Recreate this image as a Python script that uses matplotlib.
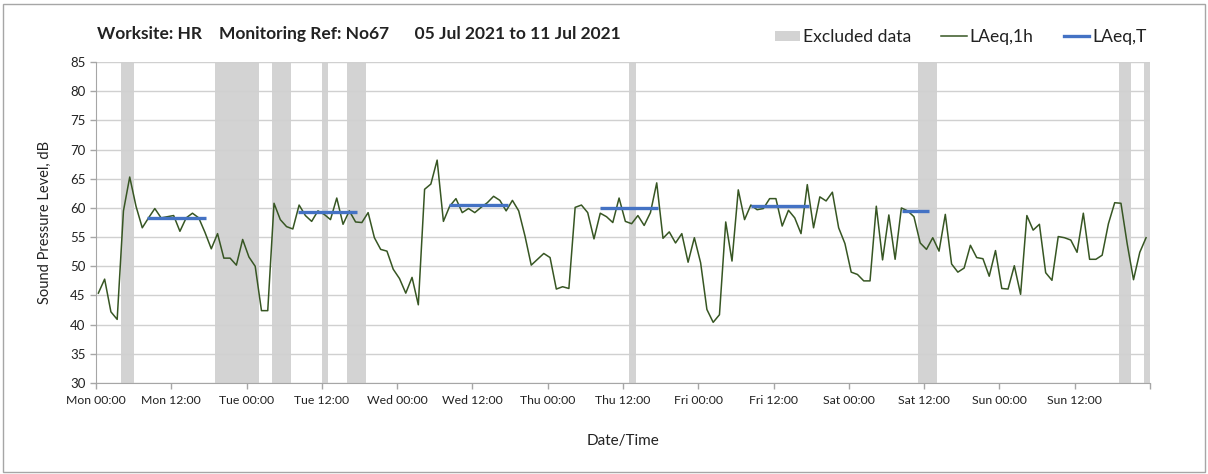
import numpy as np
import matplotlib
matplotlib.use("Agg")
import matplotlib.pyplot as plt
from matplotlib.patches import Patch, Rectangle
from matplotlib.lines import Line2D

plt.rcParams["font.family"] = ["Lato", "DejaVu Sans"]

# hourly LAeq values, Mon 00:00 onwards
laeq_1h = [
    45.4, 47.8, 42.2, 40.9, 59.5, 65.3, 60.3, 56.6, 58.3, 59.9, 58.3, 58.5,
    58.7, 56.0, 58.3, 59.1, 58.3, 55.8, 53.0, 55.6, 51.4, 51.4, 50.2, 54.6,
    51.6, 50.0, 42.4, 42.4, 60.8, 58.0, 56.8, 56.4, 60.5, 58.7, 57.7, 59.5,
    58.9, 58.0, 61.7, 57.2, 59.5, 57.6, 57.5, 59.2, 54.9, 52.9, 52.6, 49.5,
    47.9, 45.4, 48.1, 43.4, 63.2, 64.1, 68.2, 57.7, 60.3, 61.6, 59.2, 59.9,
    59.2, 60.1, 60.9, 62.0, 61.3, 59.5, 61.3, 59.5, 55.2, 50.2, 51.2, 52.2,
    51.5, 46.1, 46.5, 46.2, 60.1, 60.5, 59.2, 54.7, 59.1, 58.5, 57.5, 61.7,
    57.7, 57.3, 58.7, 57.0, 59.2, 64.3, 54.8, 55.9, 54.0, 55.6, 50.7, 54.9,
    50.6, 42.6, 40.4, 41.7, 57.6, 50.9, 63.1, 58.0, 60.5, 59.7, 59.9, 61.6,
    61.6, 56.9, 59.6, 58.3, 55.6, 64.0, 56.6, 61.9, 61.2, 62.7, 56.6, 53.9,
    49.0, 48.6, 47.5, 47.5, 60.3, 51.1, 58.8, 51.2, 60.0, 59.5, 58.5, 54.0,
    52.9, 54.9, 52.6, 58.9, 50.4, 49.0, 49.7, 53.6, 51.5, 51.3, 48.3, 52.7,
    46.2, 46.1, 50.1, 45.2, 58.7, 56.2, 57.2, 48.9, 47.6, 55.1, 54.9, 54.5,
    52.4, 59.1, 51.2, 51.2, 51.9, 57.3, 60.9, 60.8, 53.8, 47.7, 52.4, 54.9,
]
log_offset_h = 0.37  # logger start after midnight

# LAeq,T over each working period (hours from Mon 00:00)
period_start = [8.2, 32.25, 56.3, 80.3, 104.4, 128.4]
period_end = [17.6, 41.55, 65.6, 89.6, 113.6, 132.7]
laeq_t = [58.3, 59.3, 60.5, 60.0, 60.4, 59.4]

# excluded data windows (hours from Mon 00:00)
excl_start = [4, 19, 28, 36, 40, 85, 131, 163, 167]
excl_end = [6, 26, 31, 37, 43, 86, 134, 165, 168]

days = ["Mon", "Tue", "Wed", "Thu", "Fri", "Sat", "Sun"]
tick_labels = [f"{d} {t}" for d in days for t in ("00:00", "12:00")] + [""]

GREEN = "#375623"
BLUE = "#4472C4"
GREY = "#d3d3d3"
TEXT = "#222222"

fig = plt.figure(figsize=(12.08, 4.74), dpi=100)
ax = fig.add_axes([0.0795, 0.192, 0.8725, 0.677])

for s, e in zip(excl_start, excl_end):
    ax.axvspan(s, e, color=GREY, lw=0, zorder=1)

hours = np.arange(len(laeq_1h)) + log_offset_h
ax.plot(hours, laeq_1h, color=GREEN, lw=1.1, zorder=3)
for s, e, v in zip(period_start, period_end, laeq_t):
    ax.plot([s, e], [v, v], color=BLUE, lw=2.4, solid_capstyle="butt", zorder=4)

ax.set_xlim(0, 168)
ax.set_ylim(30, 85)
ax.set_yticks(np.arange(30, 86, 5))
ax.set_xticks(np.arange(0, 169, 12))
ax.set_xticklabels(tick_labels)
ax.set_xticks(np.arange(0, 169, 24), minor=True)
ax.grid(axis="y", color="#d0d0d0", lw=1, zorder=0)
ax.grid(axis="x", which="minor", color="#e6e6e6", lw=1, zorder=0)
ax.tick_params(axis="x", which="minor", length=0)
ax.tick_params(axis="both", which="major", labelsize=8.8, color="#a6a6a6",
               length=4, width=1, labelcolor=TEXT)
ax.tick_params(axis="x", which="major", pad=5)
ax.tick_params(axis="y", labelsize=9.5)
for side in ("top", "right"):
    ax.spines[side].set_visible(False)
for side in ("left", "bottom"):
    ax.spines[side].set_color("#a6a6a6")

ax.set_ylabel("Sound Pressure Level, dB", fontsize=10.5, color=TEXT, labelpad=13)
ax.set_xlabel("Date/Time", fontsize=11, color=TEXT, labelpad=20)

fig.text(0.080, 0.928, "Worksite: HR    Monitoring Ref: No67      05 Jul 2021 to 11 Jul 2021",
         fontsize=12.5, fontweight="bold", color=TEXT, va="center")

handles = [
    Patch(facecolor=GREY, edgecolor="none"),
    Line2D([0], [0], color=GREEN, lw=1.1),
    Line2D([0], [0], color=BLUE, lw=2.4),
]
fig.legend(handles, ["Excluded data", "LAeq,1h", "LAeq,T"], loc="center right",
           bbox_to_anchor=(0.962, 0.922), ncol=3, frameon=False, fontsize=12.6,
           handlelength=1.45, handleheight=0.5, handletextpad=0.15,
           columnspacing=1.75, labelcolor=TEXT)

fig.patches.append(Rectangle((0.0025, 0.004), 0.995, 0.988, transform=fig.transFigure,
                             fill=False, edgecolor="#a6a6a6", lw=1))

fig.savefig("out.png", dpi=100)
